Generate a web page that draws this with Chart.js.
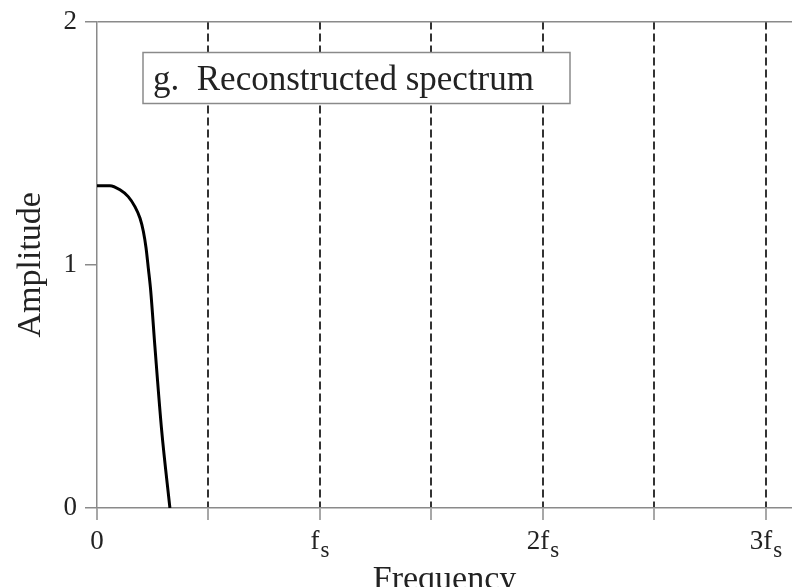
<!DOCTYPE html>
<html>
<head>
<meta charset="utf-8">
<script src="https://cdn.jsdelivr.net/npm/chart.js@4"></script>
<style>
  html, body { margin: 0; padding: 0; background: #fff; overflow: hidden; }
  #wrap { width: 792px; height: 600px; }
</style>
</head>
<body>
<div id="wrap"><canvas id="spectrumChart" width="792" height="600"></canvas></div>
<script>
// reconstructed spectrum, frequency in units of fs
const freq = [0, 0.058, 0.103, 0.140, 0.170, 0.193, 0.208, 0.220, 0.230, 0.241, 0.260, 0.290, 0.327];
const amp = [1.325, 1.325, 1.308, 1.280, 1.239, 1.191, 1.137, 1.069, 0.987, 0.892, 0.660, 0.319, 0];

const gridValues = [0, 0.5, 1, 1.5, 2, 2.5, 3];
const xLabelValues = [0, 1, 2, 3];
const xLabelMain = ['0', 'f', '2f', '3f'];
const xLabelSub = ['', 's', 's', 's'];
const yTicks = [0, 1, 2];
const boxText = 'g.  Reconstructed spectrum';

const serif = '"Liberation Serif", "DejaVu Serif", serif';
const axisGray = '#8a8a8a';

// custom x labels with subscript s, and the caption box
const extrasPlugin = {
    id: 'extras',
    afterDraw(chart) {
        const ctx = chart.ctx;
        const xs = chart.scales.x;
        const area = chart.chartArea;
        ctx.save();
        ctx.fillStyle = '#222';
        ctx.textBaseline = 'alphabetic';
        xLabelValues.forEach((v, i) => {
            const px = xs.getPixelForValue(v);
            ctx.font = '27px ' + serif;
            const wMain = ctx.measureText(xLabelMain[i]).width;
            ctx.font = '23px ' + serif;
            const wSub = xLabelSub[i] ? ctx.measureText(xLabelSub[i]).width + 1 : 0;
            const x0 = px - (wMain + wSub) / 2;
            const base = area.bottom + 41;
            ctx.font = '27px ' + serif;
            ctx.textAlign = 'left';
            ctx.fillText(xLabelMain[i], x0, base);
            if (xLabelSub[i]) {
                ctx.font = '23px ' + serif;
                ctx.fillText(xLabelSub[i], x0 + wMain + 1, base + 8);
            }
        });

        // caption box
        const bx = area.left + 46, by = area.top + 31, bw = 427, bh = 51;
        ctx.fillStyle = '#fff';
        ctx.fillRect(bx, by, bw, bh);
        ctx.strokeStyle = axisGray;
        ctx.lineWidth = 1.5;
        ctx.strokeRect(bx, by, bw, bh);
        ctx.fillStyle = '#222';
        ctx.font = '35px ' + serif;
        ctx.textAlign = 'left';
        ctx.fillText(boxText, bx + 10, by + 37);
        ctx.restore();
    }
};

const ctx = document.getElementById('spectrumChart').getContext('2d');
new Chart(ctx, {
    type: 'line',
    data: {
        datasets: [{
            data: freq.map((f, i) => ({ x: f, y: amp[i] })),
            borderColor: '#000',
            borderWidth: 3,
            pointRadius: 0,
            fill: false,
            cubicInterpolationMode: 'monotone'
        }]
    },
    options: {
        responsive: false,
        animation: false,
        layout: { padding: { top: 19, right: 0, left: 0, bottom: 0 } },
        plugins: {
            legend: { display: false },
            tooltip: { enabled: false }
        },
        scales: {
            x: {
                type: 'linear',
                min: 0,
                max: 3.117,
                afterBuildTicks: (scale) => {
                    scale.ticks = gridValues.map(v => ({ value: v }));
                },
                afterFit: (scale) => { scale.height = 92; },
                ticks: { display: false },
                grid: {
                    color: (c) => (c.tick && c.tick.value === 0) ? 'rgba(0,0,0,0)' : '#333',
                    lineWidth: 2,
                    tickColor: axisGray,
                    tickLength: 12,
                    tickWidth: 1.5
                },
                border: { color: axisGray, width: 1.5, dash: [8, 4] },
                title: {
                    display: true,
                    text: 'Frequency',
                    color: '#222',
                    font: { family: serif, size: 34 },
                    padding: { top: 0, bottom: 0 }
                }
            },
            y: {
                min: 0,
                max: 2,
                afterBuildTicks: (scale) => {
                    scale.ticks = yTicks.map(v => ({ value: v }));
                },
                afterFit: (scale) => { scale.width = 97; },
                ticks: {
                    color: '#222',
                    font: { family: serif, size: 27, lineHeight: 1 },
                    padding: 8
                },
                grid: {
                    color: (c) => (c.tick && c.tick.value === 2) ? axisGray : 'rgba(0,0,0,0)',
                    lineWidth: 1.5,
                    tickColor: axisGray,
                    tickLength: 12,
                    tickWidth: 1.5
                },
                border: { color: axisGray, width: 1.5 },
                title: {
                    display: true,
                    text: 'Amplitude',
                    color: '#222',
                    font: { family: serif, size: 34 },
                    padding: { top: 11, bottom: 0 }
                }
            }
        }
    },
    plugins: [extrasPlugin]
});
</script>
</body>
</html>
